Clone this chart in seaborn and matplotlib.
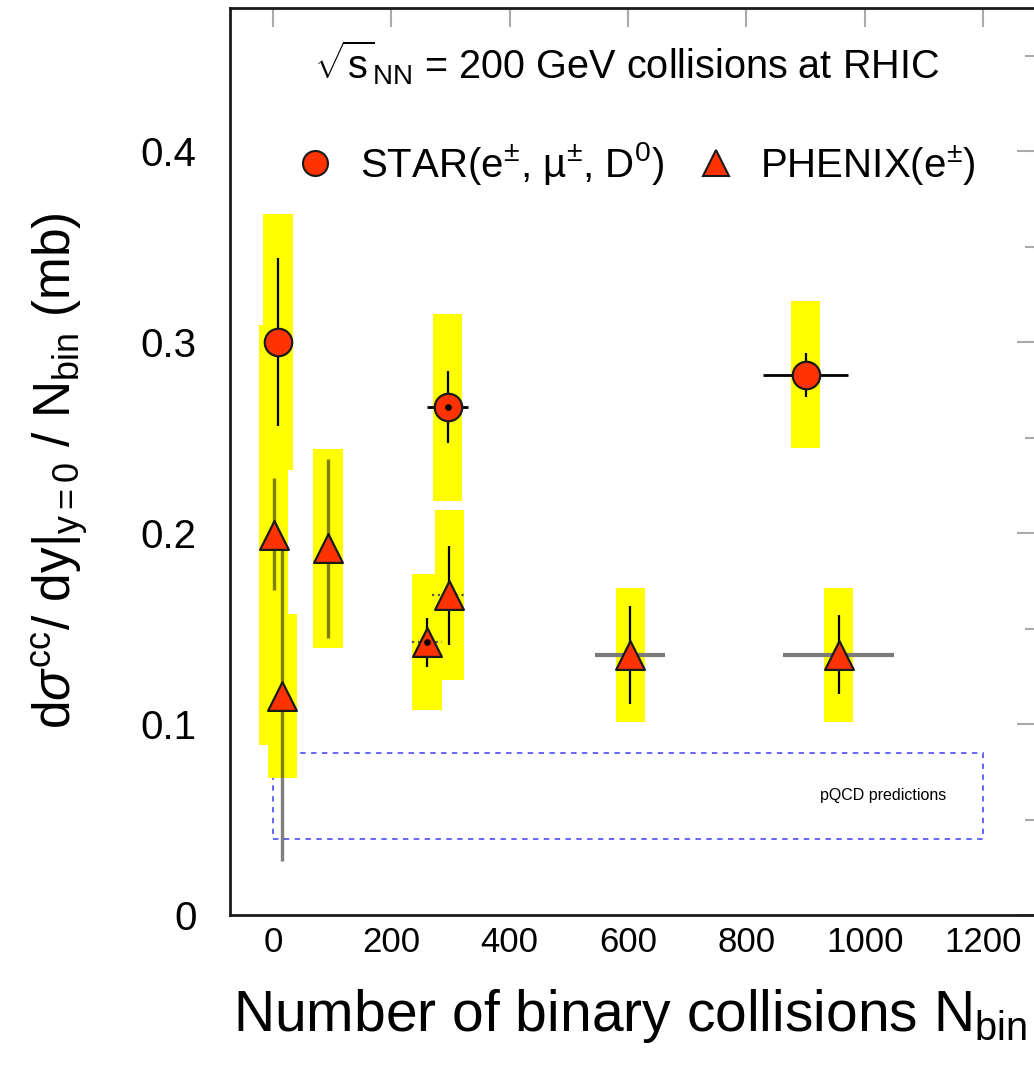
import numpy as np
import pandas as pd
import matplotlib
matplotlib.use("Agg")
import matplotlib.pyplot as plt
import seaborn as sns
from matplotlib.patches import Rectangle
from matplotlib.lines import Line2D

# STAR charm cross sections per binary collision (mb)
star_nbin = [8, 295, 900]
star_val = [0.300, 0.266, 0.283]
star_stat = [0.044, 0.019, 0.0115]
star_sys = [0.067, 0.049, 0.0385]
star_nbin_err = [0, 35, 72]

# PHENIX single-electron derived values (mb)
phenix_nbin = [1, 16, 93, 260, 298, 604, 956]
phenix_val = [0.199, 0.1145, 0.192, 0.1428, 0.1674, 0.1363, 0.1363]
phenix_stat_lo = [0.029, 0.086, 0.047, 0.0127, 0.026, 0.026, 0.0205]
phenix_stat_hi = [0.030, 0.078, 0.047, 0.0127, 0.026, 0.0257, 0.021]
phenix_sys = [0.110, 0.043, 0.052, 0.0357, 0.0445, 0.035, 0.035]
phenix_nbin_err = [0, 0, 0, 25, 30, 59, 94]

# pQCD band
pqcd_nbin = [0, 1200]
pqcd_range = [0.040, 0.085]

x_ticks = [0, 200, 400, 600, 800, 1000, 1200]
y_ticks = [0.0, 0.1, 0.2, 0.3, 0.4]
y_tick_labels = ["0", "0.1", "0.2", "0.3", "0.4"]

sns.set_theme(style="white")
plt.rcParams["font.family"] = ["Liberation Sans", "DejaVu Sans"]
plt.rcParams["mathtext.fontset"] = "custom"
plt.rcParams["mathtext.rm"] = "Liberation Sans"
plt.rcParams["mathtext.it"] = "Liberation Sans:italic"
plt.rcParams["mathtext.sf"] = "Liberation Sans"
for key in ("text.color", "axes.labelcolor", "xtick.labelcolor", "ytick.labelcolor"):
    plt.rcParams[key] = "black"

RED = "#ff3300"
YEL = "#ffff00"
EDGE = "#1a1a1a"

fig = plt.figure(figsize=(10.34, 10.65), dpi=100)
ax = fig.add_axes([229.8 / 1034, 1 - 915 / 1065, (1036.3 - 229.8) / 1034, (915 - 8) / 1065])
ax.set_xlim(-73, 1290)
ax.set_ylim(0, 0.475)

star = pd.DataFrame({"nbin": star_nbin, "val": star_val, "stat": star_stat,
                     "sys": star_sys, "xerr": star_nbin_err})
phenix = pd.DataFrame({"nbin": phenix_nbin, "val": phenix_val,
                       "lo": phenix_stat_lo, "hi": phenix_stat_hi,
                       "sys": phenix_sys, "xerr": phenix_nbin_err})

# pQCD prediction region
ax.add_patch(Rectangle((pqcd_nbin[0], pqcd_range[0]), pqcd_nbin[1] - pqcd_nbin[0],
                       pqcd_range[1] - pqcd_range[0], fill=False, edgecolor="#5a5aff",
                       lw=1.3, ls=(0, (3, 3)), zorder=0.5))
ax.text(1031, np.mean(pqcd_range), "pQCD predictions", fontsize=11.5,
        ha="center", va="center")

# systematic uncertainty boxes
for df in (star, phenix):
    ax.bar(df["nbin"], 2 * df["sys"], bottom=df["val"] - df["sys"], width=50,
           color=YEL, linewidth=0, zorder=1)

# statistical error bars
ax.errorbar(star["nbin"], star["val"], yerr=star["stat"], fmt="none",
            ecolor="black", elinewidth=1.6, capsize=0, zorder=3)
ax.errorbar(star["nbin"], star["val"], xerr=star["xerr"], fmt="none",
            ecolor="black", elinewidth=2.0, capsize=0, zorder=3)

faint = phenix.iloc[:3]
sharp = phenix.iloc[3:]
ax.errorbar(faint["nbin"], faint["val"], yerr=[faint["lo"], faint["hi"]], fmt="none",
            ecolor="black", alpha=0.5, elinewidth=2.4, capsize=0, zorder=3)
ax.errorbar(sharp["nbin"], sharp["val"], yerr=[sharp["lo"], sharp["hi"]], fmt="none",
            ecolor="black", elinewidth=1.6, capsize=0, zorder=3)
wide = phenix.iloc[5:]
ax.errorbar(wide["nbin"], wide["val"], xerr=wide["xerr"], fmt="none",
            ecolor="#7a7a7a", elinewidth=3.0, capsize=0, zorder=3)
narrow = phenix.iloc[3:5]
eb = ax.errorbar(narrow["nbin"], narrow["val"], xerr=narrow["xerr"], fmt="none",
                 ecolor="#555555", elinewidth=1.6, capsize=0, zorder=2.5)
eb[2][0].set_linestyle(":")

# markers
sns.scatterplot(data=star, x="nbin", y="val", marker="o", s=390, color=RED,
                edgecolor=EDGE, linewidth=1.6, zorder=4, ax=ax, legend=False)
sns.scatterplot(data=phenix, x="nbin", y="val", marker="^", s=430, color=RED,
                edgecolor=EDGE, linewidth=1.6, zorder=4, ax=ax, legend=False)
dots = pd.concat([star.iloc[[1]], phenix.iloc[[3]]])
ax.scatter(dots["nbin"], dots["val"], s=14, color="black", zorder=5)

# annotations
ax.text(0.492, 0.9228, r"$\sqrt{\mathrm{s}}_{\mathrm{NN}}$ = 200 GeV collisions at RHIC",
        transform=ax.transAxes, ha="center", va="baseline", fontsize=28.5)
handles = [Line2D([], [], marker="o", ls="none", ms=18, mfc=RED, mec=EDGE, mew=1.5),
           Line2D([], [], marker="^", ls="none", ms=19, mfc=RED, mec=EDGE, mew=1.5)]
labels = ["STAR(e$^{\\pm}$, \u00b5$^{\\pm}$, D$^{0}$)", "PHENIX(e$^{\\pm}$)"]
ax.legend(handles, labels, loc="center", bbox_to_anchor=(0.503, 0.828), ncol=2,
          frameon=False, fontsize=29, handletextpad=0.6, columnspacing=0.8,
          handlelength=1.0, borderpad=0)

# axes styling
ax.set_xticks(x_ticks)
ax.set_yticks(y_ticks)
ax.set_yticklabels(y_tick_labels)
ax.set_yticks(np.arange(0.05, 0.46, 0.1), minor=True)
ax.tick_params(which="both", direction="in", top=True, right=True,
               color="#aaaaaa", width=1.5)
ax.tick_params(which="major", length=14)
ax.tick_params(which="minor", length=8)
ax.tick_params(axis="x", labelsize=25, pad=8)
ax.tick_params(axis="y", labelsize=29, pad=24)
for s in ax.spines.values():
    s.set_color(EDGE)
    s.set_linewidth(2.0)

ax.set_xlabel(r"Number of binary collisions N$_{\mathrm{bin}}$", fontsize=41, va="baseline")
ax.xaxis.set_label_coords(0.497, -0.128)
ax.set_ylabel(r"d$\sigma^{\mathrm{cc}}$/ dy$|_{\mathrm{y=0}}$ / N$_{\mathrm{bin}}$ (mb)",
              fontsize=37, va="center")
ax.yaxis.set_label_coords(-0.2105, 0.49)

fig.savefig("out.png", dpi=100)
